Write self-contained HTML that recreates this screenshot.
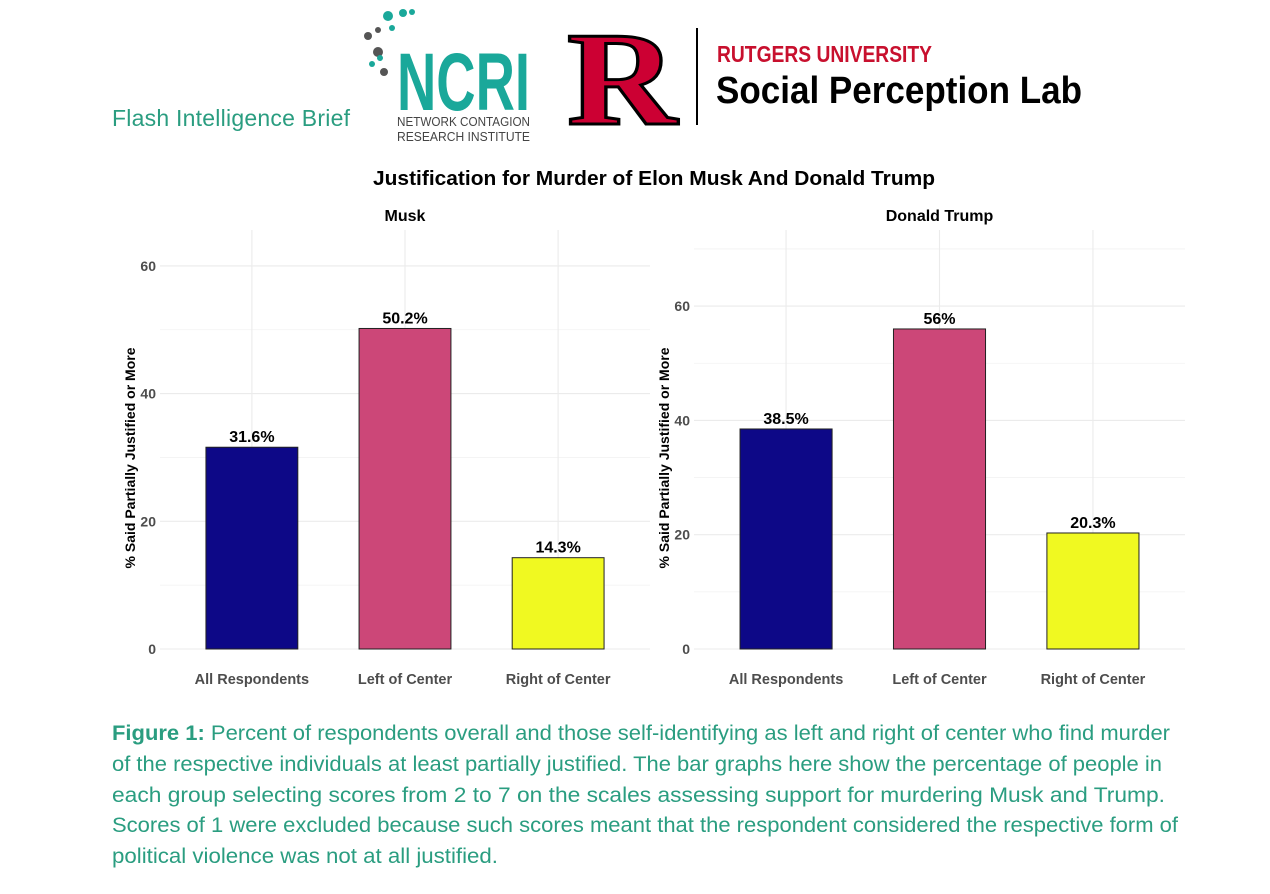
<!DOCTYPE html>
<html><head><meta charset="utf-8"><style>
html,body{margin:0;padding:0;background:#fff;}
svg{display:block;font-family:"Liberation Sans",sans-serif;}
</style></head><body>
<svg id="svg" width="1270" height="894" viewBox="0 0 1270 894">
<g>
<text x="112" y="126" font-size="23" fill="#2a9d80" textLength="238">Flash Intelligence Brief</text>
<g>
<circle cx="388" cy="16" r="5" fill="#1aa89a"/><circle cx="403" cy="13" r="4" fill="#1aa89a"/><circle cx="412" cy="12" r="3" fill="#1aa89a"/>
<circle cx="378" cy="30" r="3" fill="#555"/><circle cx="368" cy="36" r="4" fill="#555"/><circle cx="392" cy="28" r="3" fill="#1aa89a"/>
<circle cx="378" cy="52" r="5" fill="#555"/><circle cx="372" cy="64" r="3" fill="#1aa89a"/><circle cx="384" cy="72" r="4" fill="#555"/><circle cx="380" cy="58" r="3" fill="#1aa89a"/>
<text x="397" y="110" font-size="82" font-weight="bold" fill="#1aa89a" textLength="133" lengthAdjust="spacingAndGlyphs">NCRI</text>
<text x="397" y="126" font-size="13" fill="#444" textLength="133" lengthAdjust="spacingAndGlyphs">NETWORK CONTAGION</text>
<text x="397" y="141" font-size="13" fill="#444" textLength="133" lengthAdjust="spacingAndGlyphs">RESEARCH INSTITUTE</text>
</g>
<g>
<text x="567" y="124" font-size="134" font-weight="bold" font-family="Liberation Serif,serif" fill="#cc0033" stroke="#000" stroke-width="3" textLength="110" lengthAdjust="spacingAndGlyphs">R</text>
<line x1="697" y1="28" x2="697" y2="125" stroke="#000" stroke-width="2"/>
<text x="717" y="62" font-size="23" font-weight="bold" fill="#c8102e" textLength="215" lengthAdjust="spacingAndGlyphs">RUTGERS UNIVERSITY</text>
<text x="716" y="103" font-size="38" font-weight="bold" fill="#000" textLength="366" lengthAdjust="spacingAndGlyphs">Social Perception Lab</text>
</g>
</g>
<text x="654" y="185" font-size="20" font-weight="bold" text-anchor="middle" textLength="562" lengthAdjust="spacingAndGlyphs">Justification for Murder of Elon Musk And Donald Trump</text>
<g id="charts"></g>
<text font-size="21" fill="#2a9d80">
<tspan x="112" y="740" textLength="1058" lengthAdjust="spacingAndGlyphs"><tspan font-weight="bold">Figure 1:</tspan> Percent of respondents overall and those self-identifying as left and right of center who find murder</tspan>
<tspan x="112" y="771" textLength="1050" lengthAdjust="spacingAndGlyphs">of the respective individuals at least partially justified. The bar graphs here show the percentage of people in</tspan>
<tspan x="112" y="802" textLength="1053" lengthAdjust="spacingAndGlyphs">each group selecting scores from 2 to 7 on the scales assessing support for murdering Musk and Trump.</tspan>
<tspan x="112" y="832" textLength="1066" lengthAdjust="spacingAndGlyphs">Scores of 1 were excluded because such scores meant that the respondent considered the respective form of</tspan>
<tspan x="112" y="863" textLength="386" lengthAdjust="spacingAndGlyphs">political violence was not at all justified.</tspan>
</text>
</svg>
<script>
const categories = ["All Respondents","Left of Center","Right of Center"];
const muskValues = [31.6, 50.2, 14.3];
const trumpValues = [38.5, 56, 20.3];
const muskLabels = ["31.6%","50.2%","14.3%"];
const trumpLabels = ["38.5%","56%","20.3%"];
const muskTicks = [0,20,40,60];
const trumpTicks = [0,20,40,60];
const colors = ["#0d0887","#cc4778","#f0f921"];
const NS = "http://www.w3.org/2000/svg";
const root = document.getElementById('charts');
function mk(tag, attrs, parent){const e=document.createElementNS(NS,tag);for(const k in attrs)e.setAttribute(k,attrs[k]);parent.appendChild(e);return e;}
function panel(name, title, vals, labels, ticks, x0, x1, pxPer20, maxV){
  const g = mk('g',{},root);
  
  
  const y0 = 649, top = 230;
  const yS = v => y0 - v * pxPer20 / 20;
  const step = (x1 - x0) / 3.2;
  const xS = i => x0 + step * (i + 0.6);
  for (let v = 10; v <= maxV; v += 20) { mk('line',{x1:x0,x2:x1,y1:yS(v),y2:yS(v),stroke:'#f2f2f2','stroke-width':0.8},g); }
  ticks.forEach(t => {
    const l = mk('line',{x1:x0,x2:x1,y1:yS(t),y2:yS(t),stroke:'#ebebeb','stroke-width':1.1},g);
    
    
    const tx = mk('text',{x:x0-4,y:yS(t)+5,'font-size':14,'font-weight':'bold','text-anchor':'end',fill:'#4d4d4d'},g);
    tx.textContent = t;
    
    
  });
  categories.forEach((c,i) => { mk('line',{x1:xS(i),x2:xS(i),y1:top,y2:y0,stroke:'#ebebeb','stroke-width':1.1},g); });
  vals.forEach((v,i) => {
    const w = step * 0.6;
    const r = mk('rect',{x:xS(i)-w/2,y:yS(v),width:w,height:yS(0)-yS(v),fill:colors[i],stroke:'#222','stroke-width':1},g);
    
    
    const t = mk('text',{x:xS(i),y:yS(v)-5,'font-size':16,'font-weight':'bold','text-anchor':'middle'},g);
    t.textContent = labels[i];
    
    
    const cl = mk('text',{x:xS(i),y:684,'font-size':14.5,'font-weight':'bold','text-anchor':'middle',fill:'#4d4d4d'},g);
    cl.textContent = categories[i];
    
    
  });
  const tt = mk('text',{x:(x0+x1)/2,y:221,'font-size':16,'font-weight':'bold','text-anchor':'middle'},g);
  tt.textContent = title;
  
  
  const ax = mk('text',{transform:`translate(${x0-25},458) rotate(-90)`,'font-size':14,'font-weight':'bold','text-anchor':'middle'},g);
  ax.textContent = '% Said Partially Justified or More';
  
  
}
panel('musk-panel','Musk',muskValues,muskLabels,muskTicks,160,650,127.7,50);
panel('trump-panel','Donald Trump',trumpValues,trumpLabels,trumpTicks,694,1185,114.3,70);
</script>
</body></html>
